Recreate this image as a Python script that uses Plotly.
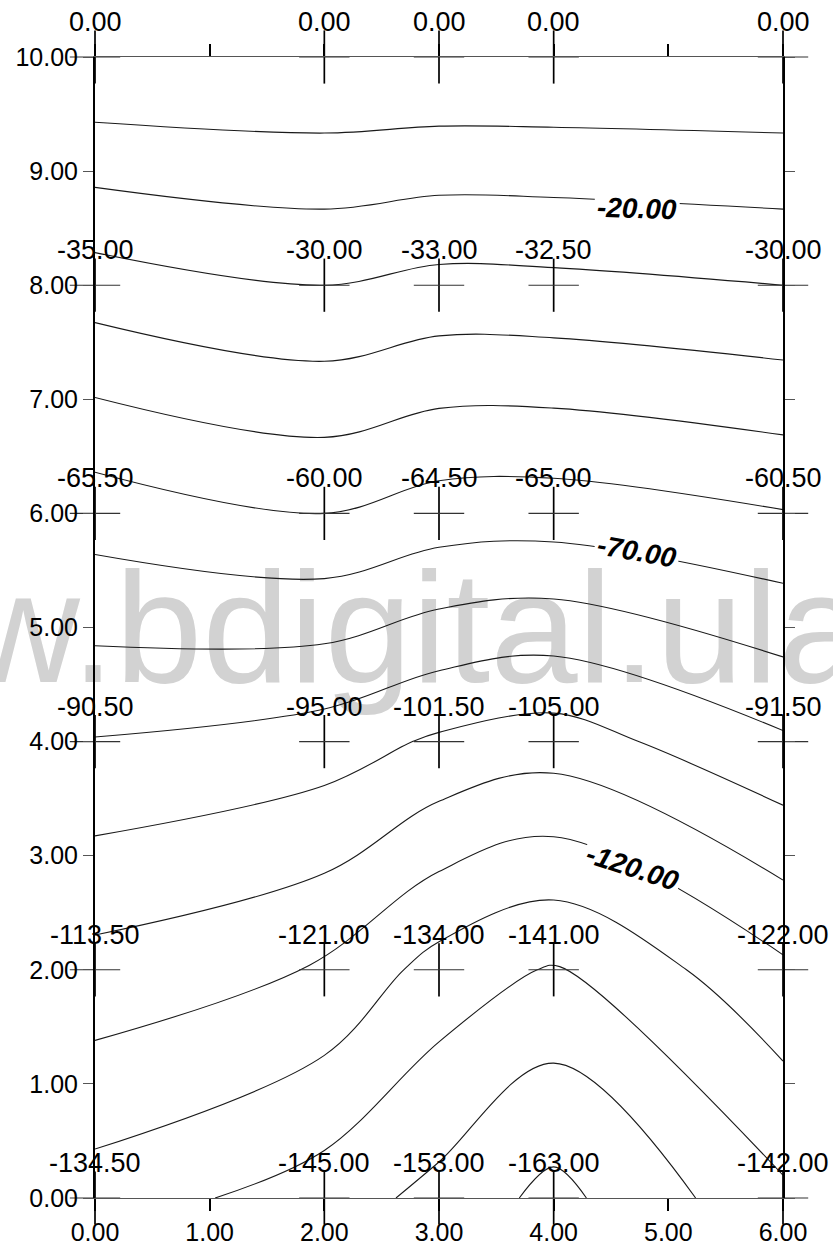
import plotly.graph_objects as go

# ---- data ----
x_vals = [0, 2, 3, 4, 6]
y_vals = [0, 2, 4, 6, 8, 10]
z_y0 = [-134.5, -145.0, -153.0, -163.0, -142.0]
z_y2 = [-113.5, -121.0, -134.0, -141.0, -122.0]
z_y4 = [-90.5, -95.0, -101.5, -105.0, -91.5]
z_y6 = [-65.5, -60.0, -64.5, -65.0, -60.5]
z_y8 = [-35.0, -30.0, -33.0, -32.5, -30.0]
z_y10 = [0.0, 0.0, 0.0, 0.0, 0.0]
z_rows = [z_y0, z_y2, z_y4, z_y6, z_y8, z_y10]

contour_start = -160
contour_end = 0
contour_step = 10

# labelled contour levels and where their labels sit
label_levels = [-20, -70, -120]
label_x = [4.73, 4.73, 4.69]
label_y = [8.675, 5.67, 2.90]
label_angle = [2, 10, 18]

x_ticks = [0, 1, 2, 3, 4, 5, 6]
y_ticks = [0, 1, 2, 3, 4, 5, 6, 7, 8, 9, 10]

watermark = "w.bdigital.ula"

FONT = "Liberation Sans, Arial, sans-serif"

# point grid
pts_x = [xv for yv in y_vals for xv in x_vals]
pts_y = [yv for yv in y_vals for xv in x_vals]
pts_z = [z_rows[j][i] for j in range(len(y_vals)) for i in range(len(x_vals))]

fig = go.Figure()

# watermark underneath (main axes)
fig.add_trace(go.Scatter(
    x=[2.80], y=[4.87], mode="text", text=[watermark],
    textfont=dict(size=157, color="#d2d2d2", family=FONT),
    textposition="middle center", cliponaxis=False,
    hoverinfo="skip", showlegend=False, xaxis="x", yaxis="y"))

# contour lines (overlay axes so they are above the watermark)
fig.add_trace(go.Contour(
    x=x_vals, y=y_vals, z=z_rows,
    contours=dict(coloring="lines", start=contour_start, end=contour_end,
                  size=contour_step, showlabels=False),
    line=dict(width=1.1, smoothing=1),
    colorscale=[[0, "#1a1a1a"], [1, "#1a1a1a"]],
    showscale=False, hoverinfo="skip", xaxis="x2", yaxis="y2"))

# cross markers at data points
fig.add_trace(go.Scatter(
    x=pts_x, y=pts_y, mode="markers",
    marker=dict(symbol="line-ns", size=38, color="black",
                line=dict(width=1.7, color="black")),
    cliponaxis=False, hoverinfo="skip", showlegend=False,
    xaxis="x2", yaxis="y2"))
fig.add_trace(go.Scatter(
    x=pts_x, y=pts_y, mode="markers",
    marker=dict(symbol="line-ew", size=36, color="#333",
                line=dict(width=1.1, color="#333")),
    cliponaxis=False, hoverinfo="skip", showlegend=False,
    xaxis="x2", yaxis="y2"))

annotations = []
# value labels above each data point
for px, py, pz in zip(pts_x, pts_y, pts_z):
    annotations.append(dict(
        x=px, y=py, xref="x", yref="y", text=f"{pz:.2f}",
        showarrow=False, yshift=35, xanchor="center", yanchor="middle",
        font=dict(size=27, color="black", family=FONT)))

# contour level labels
for lv, lx, ly, la in zip(label_levels, label_x, label_y, label_angle):
    annotations.append(dict(
        x=lx, y=ly, xref="x", yref="y", text=f"<b><i>{lv:.2f}</i></b>",
        showarrow=False, textangle=la, bgcolor="white", borderpad=2,
        xanchor="center", yanchor="middle",
        font=dict(size=28, color="black", family=FONT)))

fig.update_layout(
    width=833, height=1258,
    margin=dict(l=95, r=50, t=57, b=46),
    paper_bgcolor="white", plot_bgcolor="rgba(0,0,0,0)",
    showlegend=False,
    annotations=annotations,
    xaxis=dict(range=[0, 6], tickvals=x_ticks, tickformat=".2f",
               ticks="outside", ticklen=12, tickwidth=1.5, tickcolor="black",
               showline=True, linecolor="#555", linewidth=1, mirror="ticks",
               showgrid=False, zeroline=False,
               tickfont=dict(size=25, color="black", family=FONT)),
    yaxis=dict(range=[0, 10], tickvals=y_ticks, tickformat=".2f",
               ticks="outside", ticklen=10, tickwidth=1, tickcolor="#555",
               showline=True, linecolor="black", linewidth=2, mirror="ticks",
               showgrid=False, zeroline=False,
               tickfont=dict(size=25, color="black", family=FONT)),
    xaxis2=dict(range=[0, 6], overlaying="x", anchor="y2", visible=False),
    yaxis2=dict(range=[0, 10], overlaying="y", anchor="x2", visible=False),
)

fig.write_html(
    "out.html",
    config={"displayModeBar": False},
    post_script="document.body.style.margin='0';document.body.style.overflow='hidden';")
